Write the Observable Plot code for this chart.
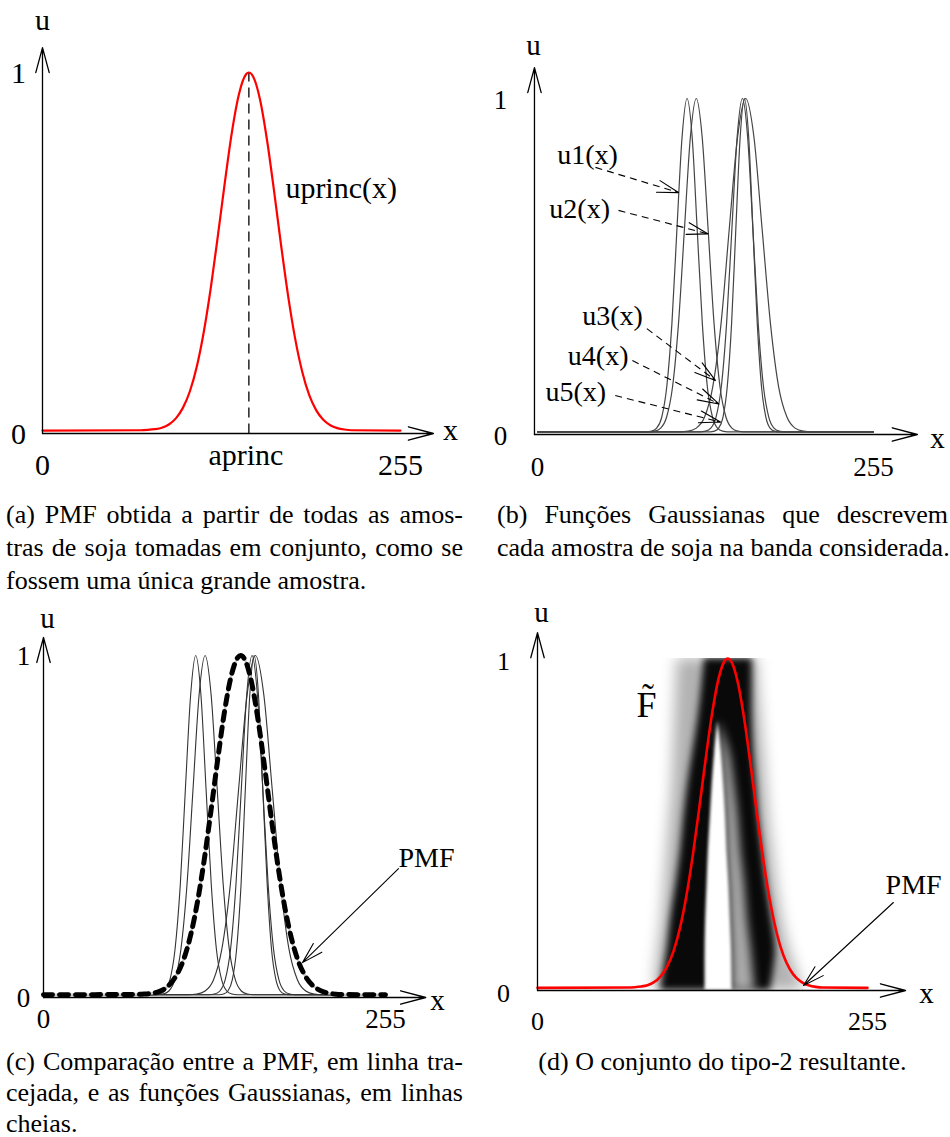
<!DOCTYPE html>
<html>
<head>
<meta charset="utf-8">
<script src="https://cdn.jsdelivr.net/npm/d3@7"></script>
<script src="https://cdn.jsdelivr.net/npm/@observablehq/plot@0.6"></script>
<style>
  html, body { margin: 0; padding: 0; background: #fff; }
  body { position: relative; width: 950px; height: 1137px; overflow: hidden;
         font-family: "Liberation Serif", "Times New Roman", serif; color: #000; }
  .panel { position: absolute; }
  .cap { position: absolute; font-size: 26px; line-height: 33px; }
  .cap div { white-space: nowrap; }
  .cap .j { text-align: justify; text-align-last: justify; }
  .cap .c { text-align: center; }
</style>
</head>
<body>
<div id="pa" class="panel"></div>
<div id="pb" class="panel"></div>
<div id="pc" class="panel"></div>
<div id="pd" class="panel"></div>

<div class="cap" style="left:6px; top:498px; width:457px;">
  <div class="j">(a) PMF obtida a partir de todas as amos-</div>
  <div class="j">tras de soja tomadas em conjunto, como se</div>
  <div>fossem uma única grande amostra.</div>
</div>
<div class="cap" style="left:497px; top:498px; width:451px;">
  <div class="j">(b) Funções Gaussianas que descrevem</div>
  <div class="j">cada amostra de soja na banda considerada.</div>
</div>
<div class="cap" style="left:6px; top:1046px; width:457px; line-height:31px;">
  <div class="j">(c) Comparação entre a PMF, em linha tra-</div>
  <div class="j">cejada, e as funções Gaussianas, em linhas</div>
  <div>cheias.</div>
</div>
<div class="cap" style="left:497px; top:1046px; width:451px; line-height:31px;">
  <div class="c">(d) O conjunto do tipo-2 resultante.</div>
</div>

<script>
// ---------------- data (x = grey level 0..255, u = membership) ----------------
const xTickValues = [0, 255];
const yTickValues = [0, 1];

// PMF of all soybean samples taken together
const pmfX = [0, 70, 75, 80, 85, 90, 95, 100, 105, 110, 115, 120, 125, 130, 135, 140, 145, 147, 150, 155,
              160, 165, 170, 175, 180, 185, 190, 195, 200, 205, 210, 215, 220, 255];
const pmfU = [0.008, 0.009, 0.010, 0.012, 0.016, 0.025, 0.042, 0.071, 0.117, 0.187, 0.284, 0.407, 0.550, 0.699, 0.837, 0.941, 0.995, 1, 0.989, 0.924,
              0.811, 0.670, 0.520, 0.380, 0.262, 0.171, 0.106, 0.064, 0.038, 0.023, 0.015, 0.011, 0.009, 0.008];
const aprinc = 147;

// the five Gaussian membership functions u1..u5 (knots along each curve)
const gaussNames = ["u1(x)", "u2(x)", "u3(x)", "u4(x)", "u5(x)"];
const u1X = [0, 82.7, 86.6, 90.4, 94.3, 98.1, 102, 105.8, 109.7, 113.5, 117.4, 121.2, 125.1, 128.9, 132.8, 136.6, 140.5, 144.3, 255];
const u2X = [0, 84.5, 89, 93.5, 98, 102.5, 107, 111.5, 116, 120.5, 125, 129.5, 134, 138.5, 143, 147.5, 152, 156.5, 255];
const u3X = [0, 108, 114.3, 120.5, 126.8, 133, 139.3, 145.5, 151.8, 158, 164.3, 170.5, 176.8, 183, 189.3, 195.5, 201.8, 208, 255];
const u4X = [0, 123.5, 127.5, 131.5, 135.5, 139.5, 143.5, 147.5, 151.5, 155.5, 159.5, 163.5, 167.5, 171.5, 175.5, 179.5, 183.5, 187.5, 255];
const u5X = [0, 131, 134.3, 137.5, 140.8, 144, 147.3, 150.5, 153.8, 157, 160.3, 163.5, 166.8, 170, 173.3, 176.5, 179.8, 183, 255];
const gaussKnotU = [0.008, 0.008, 0.010, 0.019, 0.052, 0.142, 0.330, 0.610, 0.884, 1, 0.884, 0.610, 0.330, 0.142, 0.052, 0.019, 0.010, 0.008, 0.008];

// labels/arrows of panel (b): label anchor and arrow start/end, in data units
const bLabelX = [15, 9, 34, 23, 6];
const bLabelU = [0.833, 0.67, 0.354, 0.235, 0.125];
const bArrowX1 = [44, 61.5, 83, 72, 59];
const bArrowU1 = [0.795, 0.667, 0.315, 0.22, 0.116];
const bArrowX2 = [107, 129.5, 135, 137.6, 138.8];
const bArrowU2 = [0.72, 0.597, 0.161, 0.091, 0.037];

// type-2 set of panel (d): shaded footprint, read as horizontal extents per u level
const fouU      = [0,   0.12, 0.22, 0.32, 0.42, 0.52, 0.62, 0.72, 0.82, 0.92, 1];
const fouOuterL = [90,  93,   96,   98,   100,  102,  104,  105,  106,  107,  108];
const fouOuterR = [206, 195,  189,  185,  182,  179,  177,  175,  173,  171,  170];
const fouCoreL  = [95,  100,  103,  107,  110.5,113,  116,  120,  124,  127,  129];
const fouCoreR  = [180, 184,  181,  177,  174,  171,  169,  167,  166,  166,  166];
const lmfU      = [0,    0.12,  0.22, 0.32,  0.42,  0.52,  0.62,  0.72,  0.81];
const lmfL      = [129.5,129.5, 130,  131,   132,   133.5, 135,   137,   139.5];
const lmfR      = [150.5,150,   149,  148,   146.5, 145.5, 144,   142,   139.5];
const darkR     = [168,  165,   162,  160,   157,   155,   152,   148,   140];

// ---------------- build tables ----------------
const pmf = pmfX.map((x, i) => ({x, u: pmfU[i]}));
const gaussians = [u1X, u2X, u3X, u4X, u5X].flatMap((xs, k) =>
  xs.map((x, i) => ({name: gaussNames[k], x, u: gaussKnotU[i]})));
const bAnn = gaussNames.map((label, i) => ({label, tx: bLabelX[i], tu: bLabelU[i],
  x1: bArrowX1[i], u1: bArrowU1[i], x2: bArrowX2[i], u2: bArrowU2[i]}));
const fou = fouU.map((u, i) => ({u, oL: fouOuterL[i], oR: fouOuterR[i], cL: fouCoreL[i], cR: fouCoreR[i]}));
const lmf = lmfU.map((u, i) => ({u, l: lmfL[i], r: lmfR[i], d: darkR[i]}));

// ---------------- layout ----------------
const layout = {
  a: {left: 0,   top: 0,   width: 475, height: 480, ml: 42, mr: 75, mt: 72, mb: 47, xEnd: 278.5, uTop: 1.069, x0: 0},
  b: {left: 475, top: 0,   width: 475, height: 480, ml: 62, mr: 77, mt: 98, mb: 46, xEnd: 288.3, uTop: 1.092, x0: -2.3},
  c: {left: 0,   top: 580, width: 475, height: 460, ml: 43, mr: 90, mt: 75, mb: 43, xEnd: 285,   uTop: 1.053, x0: 0},
  d: {left: 475, top: 580, width: 475, height: 460, ml: 62, mr: 83, mt: 78, mb: 50, xEnd: 284.4, uTop: 1.078, x0: 0},
};
const FONT = "'Liberation Serif', 'Times New Roman', serif";

function makePlot(L, marks) {
  return Plot.plot({
    width: L.width, height: L.height,
    marginLeft: L.ml, marginRight: L.mr, marginTop: L.mt, marginBottom: L.mb,
    x: {domain: [0, 255], axis: null},
    y: {domain: [0, 1], axis: null},
    style: {background: "transparent", overflow: "visible", fontFamily: FONT, fontSize: "28px", color: "#000"},
    marks
  });
}
function axes(L) {
  return [
    Plot.arrow([{x1: L.x0, y1: 0, x2: L.xEnd, y2: 0}], {x1: "x1", y1: "y1", x2: "x2", y2: "y2",
      stroke: "#000", strokeWidth: 1.3, headLength: 30, headAngle: 30}),
    Plot.arrow([{x1: L.x0, y1: 0, x2: L.x0, y2: L.uTop}], {x1: "x1", y1: "y1", x2: "x2", y2: "y2",
      stroke: "#000", strokeWidth: 1.3, headLength: 30, headAngle: 30})
  ];
}
function ticks(L, o) {
  return [
    Plot.text(xTickValues, {x: d => d, y: () => 0, text: d => String(d), dy: o.xdy, fontSize: o.fs, lineAnchor: "middle"}),
    Plot.text(yTickValues, {x: () => L.x0, y: d => d, text: d => String(d), dx: o.ydx, dy: o.ydy, fontSize: o.fs, lineAnchor: "middle"}),
    Plot.text(["u"], {x: () => o.ux, y: () => o.uu, fontSize: o.ls, lineAnchor: "middle"}),
    Plot.text(["x"], {x: () => o.xx, y: () => o.xu, fontSize: o.ls, lineAnchor: "middle"})
  ];
}
// arrow drawn only as its head (the shaft is a separate dashed link)
function headOnly(L, a) {
  const kx = (L.width - L.ml - L.mr) / 255, ky = (L.height - L.mt - L.mb);
  const len = Math.hypot((a.x2 - a.x1) * kx, (a.u2 - a.u1) * ky);
  return Plot.arrow([a], {x1: "x1", y1: "u1", x2: "x2", y2: "u2", stroke: "#000", strokeWidth: 1.1,
    headLength: 30, headAngle: 32, insetStart: Math.max(0, len - 3)});
}
function place(id, L, svg) {
  const el = document.getElementById(id);
  el.style.left = L.left + "px"; el.style.top = L.top + "px";
  el.appendChild(svg);
}

// ---------------- panel (a) ----------------
{
  const L = layout.a;
  place("pa", L, makePlot(L, [
    Plot.link([{x: aprinc}], {x1: "x", x2: "x", y1: () => 0, y2: () => 1, stroke: "#000", strokeWidth: 1.3, strokeDasharray: "10,6"}),
    Plot.line(pmf, {x: "x", y: "u", stroke: "#ff0000", strokeWidth: 2.2, curve: "monotone-x"}),
    ...axes(L),
    ...ticks(L, {xdy: 32, ydx: -24, ydy: 1, fs: 30, ux: 0, uu: 1.144, xx: 290.6, xu: 0.008, ls: 30}),
    Plot.text(["aprinc"], {x: () => aprinc, y: () => 0, dx: -3, dy: 22, fontSize: 30, lineAnchor: "middle"}),
    Plot.text(["uprinc(x)"], {x: () => 173, y: () => 0.679, textAnchor: "start", fontSize: 30, lineAnchor: "middle"})
  ]));
}

// ---------------- panel (b) ----------------
{
  const L = layout.b;
  place("pb", L, makePlot(L, [
    Plot.line(gaussians, {x: "x", y: "u", z: "name", stroke: "#444", strokeWidth: 1.2, curve: "monotone-x"}),
    ...axes(L),
    ...ticks(L, {xdy: 33, ydx: -34, ydy: 2, fs: 27, ux: -3, uu: 1.158, xx: 303.5, xu: -0.012, ls: 29}),
    Plot.link(bAnn, {x1: "x1", y1: "u1", x2: "x2", y2: "u2", stroke: "#000", strokeWidth: 1.1, strokeDasharray: "7,5"}),
    ...bAnn.map(a => headOnly(L, a)),
    Plot.text(bAnn, {x: "tx", y: "tu", text: "label", textAnchor: "start", fontSize: 28, lineAnchor: "middle"})
  ]));
}

// ---------------- panel (c) ----------------
{
  const L = layout.c;
  place("pc", L, makePlot(L, [
    Plot.line(gaussians, {x: "x", y: "u", z: "name", stroke: "#333", strokeWidth: 1.1, curve: "monotone-x"}),
    Plot.line(pmf, {x: "x", y: "u", stroke: "#cdcdcd", strokeWidth: 2.5, curve: "monotone-x"}),
    Plot.line(pmf, {x: "x", y: "u", stroke: "#000", strokeWidth: 5, strokeDasharray: "9,7", curve: "monotone-x"}),
    ...axes(L),
    ...ticks(L, {xdy: 22, ydx: -20, ydy: 1, fs: 27, ux: 3, uu: 1.108, xx: 293.8, xu: -0.009, ls: 29}),
    Plot.arrow([{x1: 264.7, u1: 0.377, x2: 193.1, u2: 0.102}], {x1: "x1", y1: "u1", x2: "x2", y2: "u2",
      stroke: "#000", strokeWidth: 1.1, headLength: 30, headAngle: 32}),
    Plot.text(["PMF"], {x: () => 264.7, y: () => 0.409, textAnchor: "start", fontSize: 28, lineAnchor: "middle"})
  ]));
}

// ---------------- panel (d) ----------------
{
  const L = layout.d;
  place("pd", L, makePlot(L, [
    Plot.areaX(fou, {y: "u", x1: "oL", x2: "oR", fill: "#000", fillOpacity: 0.3, curve: "catmull-rom", clip: true, imageFilter: "blur(7px)"}),
    Plot.areaX(fou, {y: "u", x1: "cL", x2: "cR", fill: "#000", fillOpacity: 0.95, curve: "catmull-rom", clip: true, imageFilter: "blur(3.5px)"}),
    Plot.areaX(lmf, {y: "u", x1: "r", x2: "d", fill: "#fff", fillOpacity: 0.65, curve: "catmull-rom", clip: true, imageFilter: "blur(5px)"}),
    Plot.areaX(lmf, {y: "u", x1: "l", x2: "r", fill: "#fff", curve: "catmull-rom", clip: true, imageFilter: "blur(1.5px)"}),
    Plot.line(pmf, {x: "x", y: "u", stroke: "#ff0000", strokeWidth: 2.6, curve: "monotone-x"}),
    ...axes(L),
    ...ticks(L, {xdy: 31, ydx: -34, ydy: 3, fs: 26, ux: 3.1, uu: 1.139, xx: 300.6, xu: -0.009, ls: 29}),
    Plot.arrow([{x1: 275, u1: 0.265, x2: 205.6, u2: 0.015}], {x1: "x1", y1: "u1", x2: "x2", y2: "u2",
      stroke: "#000", strokeWidth: 1.1, headLength: 30, headAngle: 32}),
    Plot.text(["PMF"], {x: () => 269, y: () => 0.319, textAnchor: "start", fontSize: 28, lineAnchor: "middle"}),
    Plot.text(["F\u0303"], {x: () => 84.2, y: () => 0.86, fontSize: 36, lineAnchor: "middle"})
  ]));
}
</script>
</body>
</html>
